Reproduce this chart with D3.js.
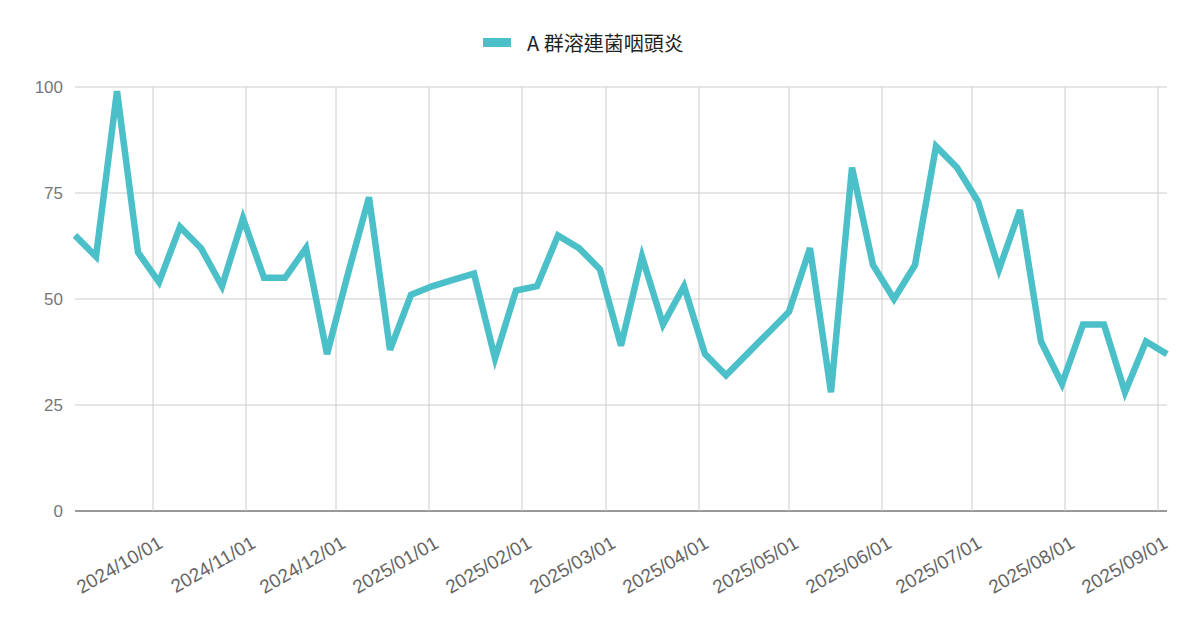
<!DOCTYPE html><html><head><meta charset="utf-8">
<script src="https://cdn.jsdelivr.net/npm/d3@7"></script>
<style>body{margin:0;background:#fff}</style></head><body>
<svg id="c" width="1200" height="626"></svg>
<script>
const seriesName="A群溶連菌咽頭炎";
const startDate="2024-09-05";
const values=[65,60,99,61,54,67,62,53,69,55,55,62,37,56,74,38,51,53,54.5,56,36,52,53,65,62,57,39,60,44,53,37,32,37,42,47,62,28,81,58,50,58,86,81,73,57,71,40,30,44,44,28,40,37];
const yTicks=[0,25,50,75,100];
const xTickLabels=["2024/10/01","2024/11/01","2024/12/01","2025/01/01","2025/02/01","2025/03/01","2025/04/01","2025/05/01","2025/06/01","2025/07/01","2025/08/01","2025/09/01"];
const parse=d3.timeParse("%Y-%m-%d"), p2=d3.timeParse("%Y/%m/%d");
const s0=parse(startDate);
const data=values.map((v,i)=>({d:d3.timeDay.offset(s0,i*7),v}));
const svg=d3.select("#c");
const L=75,R=1167,T=87,B=511;
const x=d3.scaleTime().domain(d3.extent(data,d=>d.d)).range([L,R]);
const y=d3.scaleLinear().domain([0,100]).range([B,T]);
const font="'Liberation Sans', Arial, sans-serif";
const g=svg.append("g");
yTicks.forEach(t=>{
 g.append("line").attr("x1",L).attr("x2",R).attr("y1",y(t)).attr("y2",y(t)).attr("stroke",t==0?"#333":"#ccc").attr("stroke-width",1);
 g.append("text").attr("x",L-12).attr("y",y(t)+6).attr("text-anchor","end").attr("fill","#777").attr("font-size",17).attr("font-family",font).text(t);
});
xTickLabels.forEach(s=>{
 const xx=x(p2(s));
 g.append("line").attr("x1",xx).attr("x2",xx).attr("y1",T).attr("y2",B).attr("stroke","#ccc");
 g.append("text").attr("transform",`translate(${xx+4},${B+24}) rotate(-30)`).attr("text-anchor","end").attr("dominant-baseline","hanging").attr("fill","#666").attr("font-size",19).attr("font-family",font).text(s);
});
svg.append("path").datum(data).attr("fill","none").attr("stroke","#4bc0c8").attr("stroke-width",6.5).attr("stroke-linejoin","miter")
 .attr("d",d3.line().x(d=>x(d.d)).y(d=>y(d.v)));
svg.append("rect").attr("x",483).attr("y",38).attr("width",28).attr("height",9).attr("fill","#4bc0c8");
svg.append("text").attr("x",527).attr("y",51).attr("font-size",20).attr("fill","#222").attr("font-family","'Noto Sans CJK TC', sans-serif").text(seriesName.replace("A","A "));
</script></body></html>
